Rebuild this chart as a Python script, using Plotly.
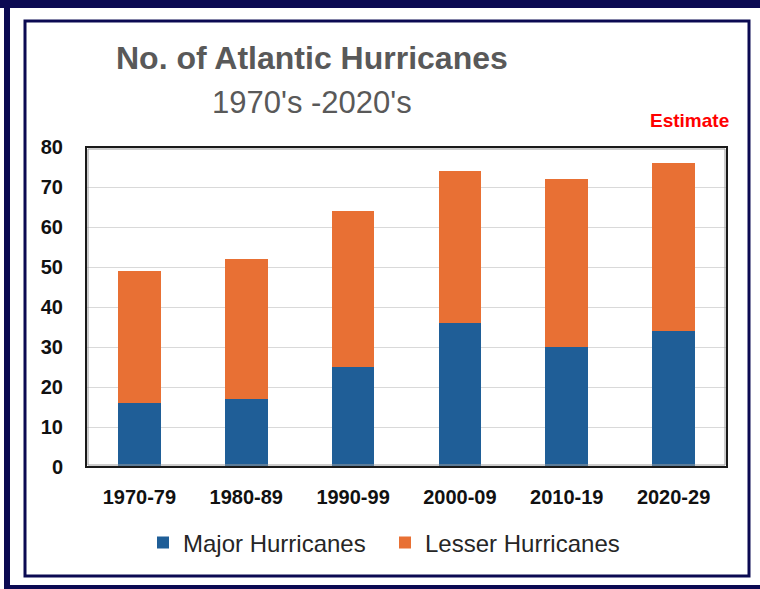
import plotly.graph_objects as go

categories = ["1970-79", "1980-89", "1990-99", "2000-09", "2010-19", "2020-29"]
major = [16, 17, 25, 36, 30, 34]
lesser = [33, 35, 39, 38, 42, 42]
y_ticks = [0, 10, 20, 30, 40, 50, 60, 70, 80]

W, H = 760, 589
L, R, T, B = 86, 33, 147, 122
PW = W - L - R
PH = H - T - B


def xp(px):
    return (px - L) / PW


def yp(py):
    return (H - B - py) / PH


FONT = "Liberation Sans, Arial, sans-serif"
NAVY = "#0b0a52"
BLUE = "#1f5e97"
ORANGE = "#e87034"

fig = go.Figure()
fig.add_trace(go.Bar(x=categories, y=major, name="Major Hurricanes",
                     marker=dict(color=BLUE, line=dict(width=0)), width=0.4))
fig.add_trace(go.Bar(x=categories, y=lesser, name="Lesser Hurricanes",
                     marker=dict(color=ORANGE, line=dict(width=0)), width=0.4))

shapes = []
# outer dark frame pieces
shapes.append(dict(type="rect", xref="paper", yref="paper", x0=xp(0), x1=xp(760), y0=yp(0), y1=yp(8),
                   fillcolor=NAVY, line=dict(width=0), layer="above"))
shapes.append(dict(type="rect", xref="paper", yref="paper", x0=xp(4), x1=xp(10), y0=yp(0), y1=yp(589),
                   fillcolor=NAVY, line=dict(width=0), layer="above"))
shapes.append(dict(type="rect", xref="paper", yref="paper", x0=xp(4), x1=xp(760), y0=yp(585), y1=yp(589),
                   fillcolor=NAVY, line=dict(width=0), layer="above"))
# inner thin frame
shapes.append(dict(type="rect", xref="paper", yref="paper", x0=xp(25), x1=xp(749), y0=yp(21), y1=yp(576),
                   fillcolor="rgba(0,0,0,0)", line=dict(color=NAVY, width=3), layer="above"))
# plot area border (dark line with soft grey inner edge)
shapes.append(dict(type="rect", xref="paper", yref="paper", x0=xp(L + 2), x1=xp(W - R - 2), y0=yp(H - B - 2), y1=yp(T + 2),
                   fillcolor="rgba(0,0,0,0)", line=dict(color="#9a9a9a", width=1), layer="above"))
shapes.append(dict(type="rect", xref="paper", yref="paper", x0=0, x1=1, y0=0, y1=1,
                   fillcolor="rgba(0,0,0,0)", line=dict(color="#1a1a1a", width=2), layer="above"))

annotations = [
    dict(text="<b>No. of Atlantic Hurricanes</b>", x=xp(312), y=yp(58), xref="paper", yref="paper",
         xanchor="center", yanchor="middle", showarrow=False,
         font=dict(family=FONT, size=32, color="#595959")),
    dict(text="1970's -2020's", x=xp(312), y=yp(102), xref="paper", yref="paper",
         xanchor="center", yanchor="middle", showarrow=False,
         font=dict(family=FONT, size=31, color="#595959")),
    dict(text="<b>Estimate</b>", x=xp(689), y=yp(121), xref="paper", yref="paper",
         xanchor="center", yanchor="middle", showarrow=False,
         font=dict(family=FONT, size=19, color="#ff0000")),
]

fig.update_layout(
    width=W, height=H,
    margin=dict(l=L, r=R, t=T, b=B, pad=0),
    barmode="stack",
    paper_bgcolor="white",
    plot_bgcolor="white",
    shapes=shapes,
    annotations=annotations,
    showlegend=True,
    legend=dict(orientation="h", x=xp(143), y=yp(543), xanchor="left", yanchor="middle",
                font=dict(family=FONT, size=24, color="#262626"), traceorder="normal",
                entrywidth=197, entrywidthmode="pixels",
                itemclick=False, bgcolor="rgba(0,0,0,0)"),
    xaxis=dict(type="category", tickfont=dict(family=FONT, size=20, color="#111111", weight="bold"),
               showgrid=False, showline=False, ticks="", ticklabelstandoff=16),
    yaxis=dict(range=[0, 80], tickvals=y_ticks, tickfont=dict(family=FONT, size=20, color="#111111", weight="bold"),
               showgrid=True, gridcolor="#d9d9d9", gridwidth=1, zeroline=False,
               showline=False, ticks="", ticklabelstandoff=22),
)

fig.write_html("out.html")
